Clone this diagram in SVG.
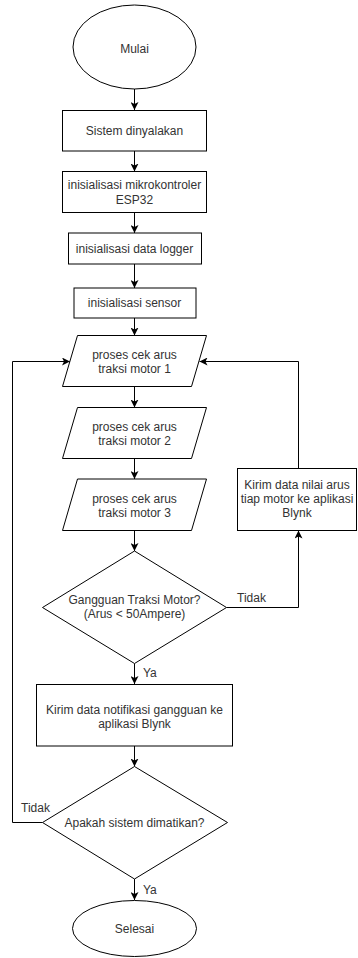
<svg xmlns="http://www.w3.org/2000/svg" width="358" height="958" viewBox="0 0 358 958">
<style>
.s{fill:#fff;stroke:#000;stroke-width:1}
.t{font-family:"Liberation Sans",Arial,sans-serif;font-size:12px;fill:#333;text-anchor:middle}
.l{font-family:"Liberation Sans",Arial,sans-serif;font-size:12px;fill:#333}
.c{fill:none;stroke:#000;stroke-width:1}
</style>
<defs>
<marker id="a" viewBox="0 0 10 10" refX="10" refY="5" markerWidth="8" markerHeight="8" markerUnits="userSpaceOnUse" orient="auto">
<path d="M0,0 L10,5 L0,10 L2.5,5 Z" fill="#000"/>
</marker>
</defs>
<rect width="358" height="958" fill="#fff"/>
<g id="connectors">
<path class="c" d="M134.5,89 V110" marker-end="url(#a)"/>
<path class="c" d="M134.5,151 V171.5" marker-end="url(#a)"/>
<path class="c" d="M134.5,212.5 V233" marker-end="url(#a)"/>
<path class="c" d="M134.5,264 V288" marker-end="url(#a)"/>
<path class="c" d="M134.5,318 V335.5" marker-end="url(#a)"/>
<path class="c" d="M134.5,386.5 V407.5" marker-end="url(#a)"/>
<path class="c" d="M134.5,458.5 V479" marker-end="url(#a)"/>
<path class="c" d="M134.5,530.5 V551" marker-end="url(#a)"/>
<path class="c" d="M226.5,607.5 H298.5 V530.5" marker-end="url(#a)"/>
<path class="c" d="M298.5,468.5 V361.5 H199.5" marker-end="url(#a)"/>
<path class="c" d="M134.5,663.5 V684" marker-end="url(#a)"/>
<path class="c" d="M134.5,746 V766.5" marker-end="url(#a)"/>
<path class="c" d="M42.5,822.5 H12.5 V361.5 H70" marker-end="url(#a)"/>
<path class="c" d="M134.5,879 V900" marker-end="url(#a)"/>
<text class="l" x="237" y="602">Tidak</text>
<text class="l" x="143" y="677">Ya</text>
<text class="l" x="21" y="812">Tidak</text>
<text class="l" x="143" y="894">Ya</text>
</g>
<g id="mulai">
<ellipse class="s" cx="134.5" cy="47" rx="61.5" ry="42"/>
<text class="t" x="134.5" y="53">Mulai</text>
</g>
<g id="sistem">
<rect class="s" x="62.5" y="110.5" width="144" height="40.5"/>
<text class="t" x="134.5" y="135">Sistem dinyalakan</text>
</g>
<g id="mikro">
<rect class="s" x="62.5" y="171.5" width="144" height="41"/>
<text class="t" x="134.5" y="189">inisialisasi mikrokontroler</text>
<text class="t" x="134.5" y="204">ESP32</text>
</g>
<g id="logger">
<rect class="s" x="68.5" y="233" width="133" height="31"/>
<text class="t" x="134.5" y="252.5">inisialisasi data logger</text>
</g>
<g id="sensor">
<rect class="s" x="74" y="288" width="122" height="30"/>
<text class="t" x="134.5" y="307">inisialisasi sensor</text>
</g>
<g id="cek1">
<polygon class="s" points="77.5,335.5 206.5,335.5 191.5,386.5 62.5,386.5"/>
<text class="t" x="134.5" y="359">proses cek arus</text>
<text class="t" x="134.5" y="373">traksi motor 1</text>
</g>
<g id="cek2">
<polygon class="s" points="77.5,407.5 206.5,407.5 191.5,458.5 62.5,458.5"/>
<text class="t" x="134.5" y="431">proses cek arus</text>
<text class="t" x="134.5" y="445">traksi motor 2</text>
</g>
<g id="cek3">
<polygon class="s" points="77.5,479 206.5,479 191.5,530.5 62.5,530.5"/>
<text class="t" x="134.5" y="503">proses cek arus</text>
<text class="t" x="134.5" y="517">traksi motor 3</text>
</g>
<g id="gangguan">
<polygon class="s" points="134.5,551 226.5,607.5 134.5,663.5 42.5,607.5"/>
<text class="t" x="134.5" y="604">Gangguan Traksi Motor?</text>
<text class="t" x="134.5" y="618">(Arus &lt; 50Ampere)</text>
</g>
<g id="kirimnilai">
<rect class="s" x="237.5" y="468.5" width="119" height="62"/>
<text class="t" x="297" y="489">Kirim data nilai arus</text>
<text class="t" x="297" y="503">tiap motor ke aplikasi</text>
<text class="t" x="297" y="517">Blynk</text>
</g>
<g id="kirimnotif">
<rect class="s" x="36.5" y="684.5" width="196" height="61.5"/>
<text class="t" x="134.5" y="714">Kirim data notifikasi gangguan ke</text>
<text class="t" x="134.5" y="728">aplikasi Blynk</text>
</g>
<g id="dimatikan">
<polygon class="s" points="134.5,766.5 227.5,822.5 134.5,879 42.5,822.5"/>
<text class="t" x="134.5" y="827">Apakah sistem dimatikan?</text>
</g>
<g id="selesai">
<ellipse class="s" cx="134.5" cy="928.5" rx="62" ry="28"/>
<text class="t" x="134.5" y="933">Selesai</text>
</g>
</svg>
